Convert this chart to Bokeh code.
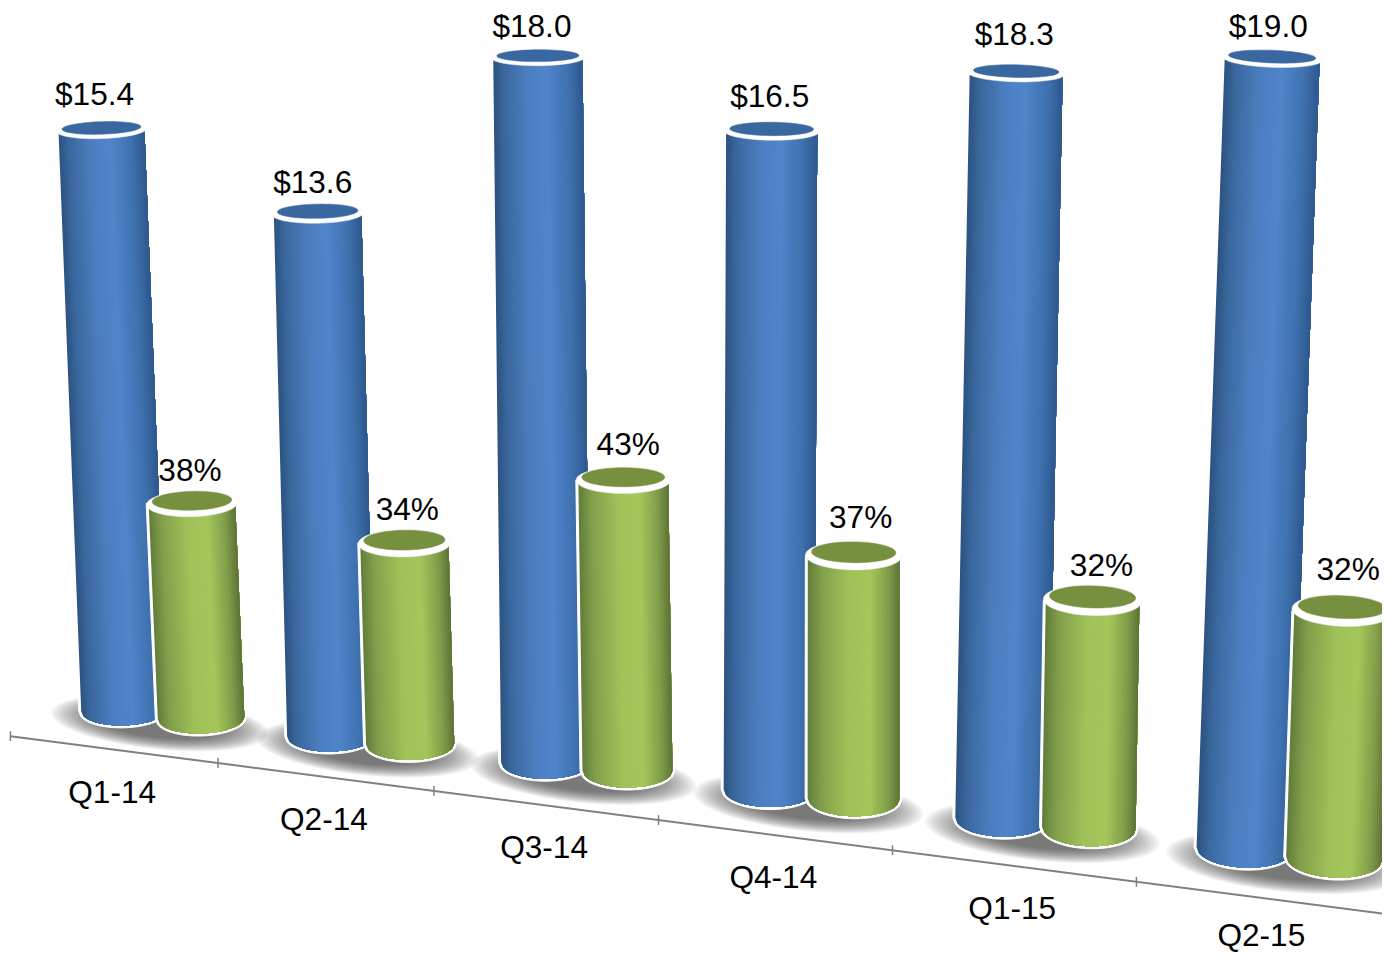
import numpy as np
from bokeh.plotting import figure
from bokeh.models import Range1d
from bokeh.core.properties import value
from bokeh.embed import file_html
from bokeh.resources import INLINE

quarters = ["Q1-14", "Q2-14", "Q3-14", "Q4-14", "Q1-15", "Q2-15"]
blue_values = [15.4, 13.6, 18.0, 16.5, 18.3, 19.0]
blue_labels = ["$15.4", "$13.6", "$18.0", "$16.5", "$18.3", "$19.0"]
green_values = [38, 34, 43, 37, 32, 32]
green_labels = ["38%", "34%", "43%", "37%", "32%", "32%"]
# height of each green column as drawn, read in the units of the blue series
green_drawn = [5.65, 5.19, 7.37, 6.05, 5.55, 5.92]

FONT = value("Liberation Sans")
P_A, P_B, P_C = 205.8, 10.0, -0.01916   # perspective along the floor axis
AX_Y0, AX_SLOPE = 748.0, 0.13
VP_Y = 16000.0                          # vanishing point of the verticals
VP_X_BLUE, VP_X_GREEN = 721.0, 851.0
UNIT = 37.9

# hand placement of the value labels relative to the column tops
BLUE_DX, BLUE_RISE = (-7, -5, -6, -2, -2, -4), (36, 32, 32, 36, 40, 33)
GREEN_DX, GREEN_RISE = (-2, 3, 5, 7, 9, 6), (34, 35, 37, 39, 36, 42)


def floor_x(t):
    return (P_A * t + P_B) / (1 + P_C * t)


def floor_y(x):
    return AX_Y0 + AX_SLOPE * (x - P_B)


def depth(t):
    return 1 / (1 + P_C * t)


def ry_at(y, w):
    return w * (0.085 + 0.00013 * y)


def tilt_at(x):
    return (x - 640) * 0.00006


def ellipse_pts(cx, cy, rx, ry, tilt, n=60):
    a = np.linspace(0, 2 * np.pi, n, endpoint=False)
    ex, ey = rx * np.cos(a), ry * np.sin(a)
    return (cx + ex * np.cos(tilt) - ey * np.sin(tilt)).tolist(), (cy + ex * np.sin(tilt) + ey * np.cos(tilt)).tolist()


def ramp(stops, u):
    pos = [s[0] for s in stops]
    return "#%02x%02x%02x" % tuple(int(round(np.interp(u, pos, [s[1][k] for s in stops]))) for k in range(3))


BLUE = [(0, (44, 82, 128)), (0.12, (58, 104, 158)), (0.38, (76, 126, 192)), (0.6, (80, 133, 202)),
        (0.85, (62, 112, 174)), (1, (46, 88, 140))]
GREEN = [(0, (98, 124, 58)), (0.15, (130, 160, 76)), (0.45, (160, 194, 88)), (0.68, (164, 198, 90)),
         (0.88, (128, 156, 74)), (1, (92, 116, 54))]

p = figure(width=1382, height=955, x_range=Range1d(0, 1398), y_range=Range1d(971, 0),
           output_backend="svg", toolbar_location=None, min_border=0)
p.axis.visible = False
p.grid.visible = False
p.outline_line_color = None
p.background_fill_color = "white"


def place(i, offset, shrink, plotted, lift):
    t = i * shrink + offset
    bx = floor_x(t)
    by = floor_y(bx) - lift - 1.2 * i
    h = plotted * UNIT * depth(t)
    return bx, by, h, 86 * depth(t)


def cylinder(bx, by, h, w, stops, top_color, vp_x):
    ty = by - h
    tx = bx - (vp_x - bx) / (VP_Y - by) * h
    ryb, ryt = ry_at(by, w), ry_at(ty, w)
    tilt = tilt_at(bx)

    def arc(us, cx, cy, r, halfw):
        return (cx + us * halfw).tolist(), (cy + r * np.sqrt(np.clip(1 - us ** 2, 0, 1)) + tilt * us * halfw).tolist()

    # white silhouette
    us = np.linspace(-1, 1, 41)
    ax, ay = arc(us, bx, by, ryb + 2.5, w / 2 + 2.5)
    p.patch([tx - w / 2 - 2.5] + ax + [tx + w / 2 + 2.5], [ty] + ay + [ty], fill_color="white", line_color="white")
    # shaded body: each layer runs to the right edge, so no seams show
    n = 44
    edges = np.linspace(-1, 1, n + 1)
    xs, ys, cols = [], [], []
    for k in range(n):
        part = edges[k:]
        top_x, top_y = arc(part, tx, ty, ryt, w / 2)
        bot_x, bot_y = arc(part[::-1], bx, by, ryb, w / 2)
        xs.append(top_x + bot_x)
        ys.append(top_y + bot_y)
        cols.append(ramp(stops, (k + 0.5) / n))
    p.patches(xs, ys, fill_color=cols, line_color=None)
    # top: white rim and dark mouth
    ex, ey = ellipse_pts(tx, ty, w * 0.525, ryt, tilt_at(tx))
    p.patch(ex, ey, fill_color="white", line_color="#eeeeee", line_width=0.5)
    ex, ey = ellipse_pts(tx, ty - ryt * 0.22, w * 0.46, ryt * 0.72, tilt_at(tx))
    p.patch(ex, ey, fill_color=top_color, line_color=top_color, line_width=0.5)
    return tx, ty


blue_geo = [place(i, 0.553, 0.975, v, 41.5) for i, v in enumerate(blue_values)]
green_geo = [place(i, 0.92, 0.972, v, 43.5) for i, v in enumerate(green_drawn)]

# soft floor shadows
for i in range(len(quarters)):
    bx, by = blue_geo[i][:2]
    gx, gy = green_geo[i][:2]
    cx, cy = (bx + gx) / 2 - 3, (by + gy) / 2 + 9
    w = blue_geo[i][3]
    for f in np.linspace(1.0, 0.55, 20):
        ex, ey = ellipse_pts(cx, cy, w * 1.27 * f, w * 0.31 * f, 0.1)
        p.patch(ex, ey, fill_color="#333333", fill_alpha=0.05, line_color=None)

# floor axis
ax_x = [P_B, 1398.0]
p.line(ax_x, [floor_y(x) for x in ax_x], line_color="#808080", line_width=2)
tick_x = [floor_x(t) for t in range(len(quarters))]
p.segment(tick_x, [floor_y(x) - 5 for x in tick_x], tick_x, [floor_y(x) + 5 for x in tick_x],
          line_color="#808080", line_width=1.5)

lab_x, lab_y, lab_t = [], [], []
for i in range(len(quarters)):
    tx, ty = cylinder(*blue_geo[i], BLUE, "#38689f", VP_X_BLUE)
    lab_x.append(tx + BLUE_DX[i])
    lab_y.append(ty - BLUE_RISE[i])
    lab_t.append(blue_labels[i])
    tx, ty = cylinder(*green_geo[i], GREEN, "#76903f", VP_X_GREEN)
    lab_x.append(tx + GREEN_DX[i])
    lab_y.append(ty - GREEN_RISE[i])
    lab_t.append(green_labels[i])

p.text(lab_x, lab_y, text=lab_t, text_font=FONT, text_font_size="31.6px", text_color="#000000",
       text_align="center", text_baseline="middle")

cat_x = [floor_x(i + 0.5) - 1 for i in range(len(quarters))]
cat_y = [min(floor_y(x) + 43, 950) for x in cat_x]
p.text(cat_x, cat_y, text=quarters, text_font=FONT, text_font_size="31.6px", text_color="#000000",
       text_align="center", text_baseline="middle")

open("out.html", "w").write(file_html(p, INLINE))
